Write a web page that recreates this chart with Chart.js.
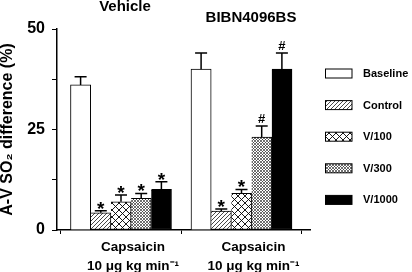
<!DOCTYPE html>
<html>
<head>
<meta charset="utf-8">
<script src="https://cdn.jsdelivr.net/npm/chart.js@4.4.1/dist/chart.umd.min.js"></script>
<style>
  html, body { margin: 0; padding: 0; background: #ffffff; }
  canvas { display: block; }
</style>
</head>
<body>
<canvas id="chart" width="412" height="272"></canvas>
<script>
// ---------- data ----------
const groups = ['Vehicle', 'BIBN4096BS'];
const groupPos = [1, 2];
const xTickLabels = [['Capsaicin', '10 μg kg min⁻¹'], ['Capsaicin', '10 μg kg min⁻¹']];
const seriesNames = ['Baseline', 'Control', 'V/100', 'V/300', 'V/1000'];
const baselineVals = [36.1, 40.0];
const baselineErr  = [2.0, 4.0];
const controlVals  = [4.3, 4.7];
const controlErr   = [0.5, 0.5];
const v100Vals     = [7.0, 9.1];
const v100Err      = [1.7, 1.0];
const v300Vals     = [7.9, 23.1];
const v300Err      = [1.2, 2.8];
const v1000Vals    = [10.1, 40.0];
const v1000Err     = [1.9, 4.0];
const baselineMarks = ['', ''];
const controlMarks  = ['*', '*'];
const v100Marks     = ['*', '*'];
const v300Marks     = ['*', '#'];
const v1000Marks    = ['*', '#'];
const yTickLabels = [0, 25, 50];

// ---------- styles ----------
const FONT = 'Arial, "Liberation Sans", Helvetica, sans-serif';

function makePattern(kind) {
  const c = document.createElement('canvas');
  const ctx = c.getContext('2d');
  let s;
  if (kind === 'white') { s = 4; c.width = c.height = s; ctx.fillStyle = '#fff'; ctx.fillRect(0,0,s,s); }
  else if (kind === 'black') { s = 4; c.width = c.height = s; ctx.fillStyle = '#000'; ctx.fillRect(0,0,s,s); }
  else if (kind === 'hatch') {
    s = 4; c.width = c.height = s;
    ctx.fillStyle = '#fff'; ctx.fillRect(0,0,s,s);
    ctx.strokeStyle = '#333'; ctx.lineWidth = 0.9;
    ctx.beginPath();
    ctx.moveTo(0, s); ctx.lineTo(s, 0);
    ctx.moveTo(-1, 1); ctx.lineTo(1, -1);
    ctx.moveTo(s-1, s+1); ctx.lineTo(s+1, s-1);
    ctx.stroke();
  } else if (kind === 'cross') {
    s = 7; c.width = c.height = s;
    ctx.fillStyle = '#fff'; ctx.fillRect(0,0,s,s);
    ctx.strokeStyle = '#000'; ctx.lineWidth = 0.9;
    ctx.beginPath();
    ctx.moveTo(0, 0); ctx.lineTo(s, s);
    ctx.moveTo(0, s); ctx.lineTo(s, 0);
    ctx.stroke();
  } else if (kind === 'fine') {
    s = 3; c.width = c.height = s;
    ctx.fillStyle = '#fff'; ctx.fillRect(0,0,s,s);
    ctx.strokeStyle = '#333'; ctx.lineWidth = 0.7;
    ctx.beginPath();
    ctx.moveTo(0, 0); ctx.lineTo(s, s);
    ctx.moveTo(0, s); ctx.lineTo(s, 0);
    ctx.stroke();
  }
  return document.createElement('canvas').getContext('2d').createPattern(c, 'repeat');
}

const fills = [makePattern('white'), makePattern('hatch'), makePattern('cross'), makePattern('fine'), makePattern('black')];
const seriesVals = [baselineVals, controlVals, v100Vals, v300Vals, v1000Vals];
const seriesErr = [baselineErr, controlErr, v100Err, v300Err, v1000Err];
const seriesMarks = [baselineMarks, controlMarks, v100Marks, v300Marks, v1000Marks];

const datasets = seriesNames.map((name, k) => ({
  label: name,
  data: groupPos.map((x, i) => ({ x: x, y: seriesVals[k][i] })),
  errors: seriesErr[k],
  marks: seriesMarks[k],
  backgroundColor: fills[k],
  borderColor: '#000',
  borderWidth: 1,
  borderSkipped: k === 0 ? 'bottom' : 'left',
  barThickness: 20.2
}));

// ---------- plugins ----------
const errorBars = {
  id: 'errorBars',
  afterDatasetsDraw(chart) {
    const ctx = chart.ctx;
    const yScale = chart.scales.y;
    ctx.save();
    chart.data.datasets.forEach((ds, k) => {
      const meta = chart.getDatasetMeta(k);
      meta.data.forEach((bar, i) => {
        const v = ds.data[i].y;
        const top = yScale.getPixelForValue(v + ds.errors[i]);
        ctx.strokeStyle = '#000';
        ctx.lineWidth = 1.5;
        ctx.beginPath();
        ctx.moveTo(bar.x, bar.y);
        ctx.lineTo(bar.x, top);
        ctx.moveTo(bar.x - 6, top);
        ctx.lineTo(bar.x + 6, top);
        ctx.stroke();
        const m = ds.marks[i];
        if (m) {
          ctx.fillStyle = '#000';
          ctx.textAlign = 'center';
          ctx.textBaseline = 'alphabetic';
          if (m === '*') {
            ctx.font = 'bold 19px ' + FONT;
            ctx.fillText(m, bar.x, top + 4);
          } else {
            ctx.font = 'bold 13px ' + FONT;
            ctx.fillText(m, bar.x, top - 3);
          }
        }
      });
    });
    ctx.restore();
  }
};

const groupTitles = {
  id: 'groupTitles',
  afterDraw(chart) {
    const ctx = chart.ctx;
    const xs = chart.scales.x;
    const dx = [4, 9.5];
    const ys = [6.5, 18];
    ctx.save();
    ctx.fillStyle = '#000';
    ctx.font = 'bold 15px ' + FONT;
    ctx.textAlign = 'center';
    ctx.textBaseline = 'middle';
    groups.forEach((g, i) => {
      ctx.fillText(g, xs.getPixelForValue(groupPos[i]) + dx[i], ys[i]);
    });
    ctx.restore();
  }
};

const sideLegend = {
  id: 'sideLegend',
  afterDraw(chart) {
    const ctx = chart.ctx;
    ctx.save();
    ctx.font = 'bold 11px ' + FONT;
    ctx.textAlign = 'left';
    ctx.textBaseline = 'middle';
    chart.data.datasets.forEach((ds, k) => {
      const cy = 73.5 + k * 31.6;
      ctx.fillStyle = ds.backgroundColor;
      ctx.fillRect(325, cy - 4.5, 27, 9);
      ctx.strokeStyle = '#000';
      ctx.lineWidth = 1;
      ctx.strokeRect(325.5, cy - 4.5, 26.5, 9);
      ctx.fillStyle = '#000';
      ctx.fillText(ds.label, 363, cy + 0.5);
    });
    ctx.restore();
  }
};

// ---------- chart ----------
new Chart(document.getElementById('chart'), {
  type: 'bar',
  data: { datasets: datasets },
  options: {
    responsive: false,
    animation: false,
    devicePixelRatio: 1,
    layout: { padding: { left: 0, right: 102, top: 29, bottom: 0 } },
    plugins: { legend: { display: false }, tooltip: { enabled: false } },
    scales: {
      x: {
        type: 'linear',
        min: 0.4689,
        max: 2.5685,
        offset: false,
        afterBuildTicks: (s) => { s.ticks = groupPos.map(v => ({ value: v })); },
        afterFit: (s) => { s.height = 42; },
        grid: { drawOnChartArea: false, drawTicks: true, tickLength: 4, color: '#000', lineWidth: 1 },
        border: { display: true, color: '#000', width: 1.5 },
        ticks: {
          color: '#000',
          font: { family: FONT, size: 13.5, weight: 'bold', lineHeight: 1.45 },
          padding: 3,
          labelOffset: 12,
          maxRotation: 0,
          autoSkip: false,
          callback: (v, i) => xTickLabels[i]
        }
      },
      y: {
        min: 0,
        max: 50,
        afterFit: (s) => { s.width = 57; },
        grid: { drawOnChartArea: false, drawTicks: true, tickLength: 5, color: '#000', lineWidth: 1 },
        border: { display: true, color: '#000', width: 1.5 },
        ticks: {
          stepSize: 12.5,
          color: '#000',
          padding: 7,
          font: { family: FONT, size: 16, weight: 'bold' },
          callback: (v) => yTickLabels.includes(v) ? String(v) : ''
        },
        title: {
          display: true,
          text: 'A-V SO₂ difference (%)',
          color: '#000',
          font: { family: FONT, size: 16, weight: 'bold', lineHeight: 1 },
          padding: { top: 0, bottom: 0 }
        }
      }
    }
  },
  plugins: [errorBars, groupTitles, sideLegend]
});
</script>
</body>
</html>
